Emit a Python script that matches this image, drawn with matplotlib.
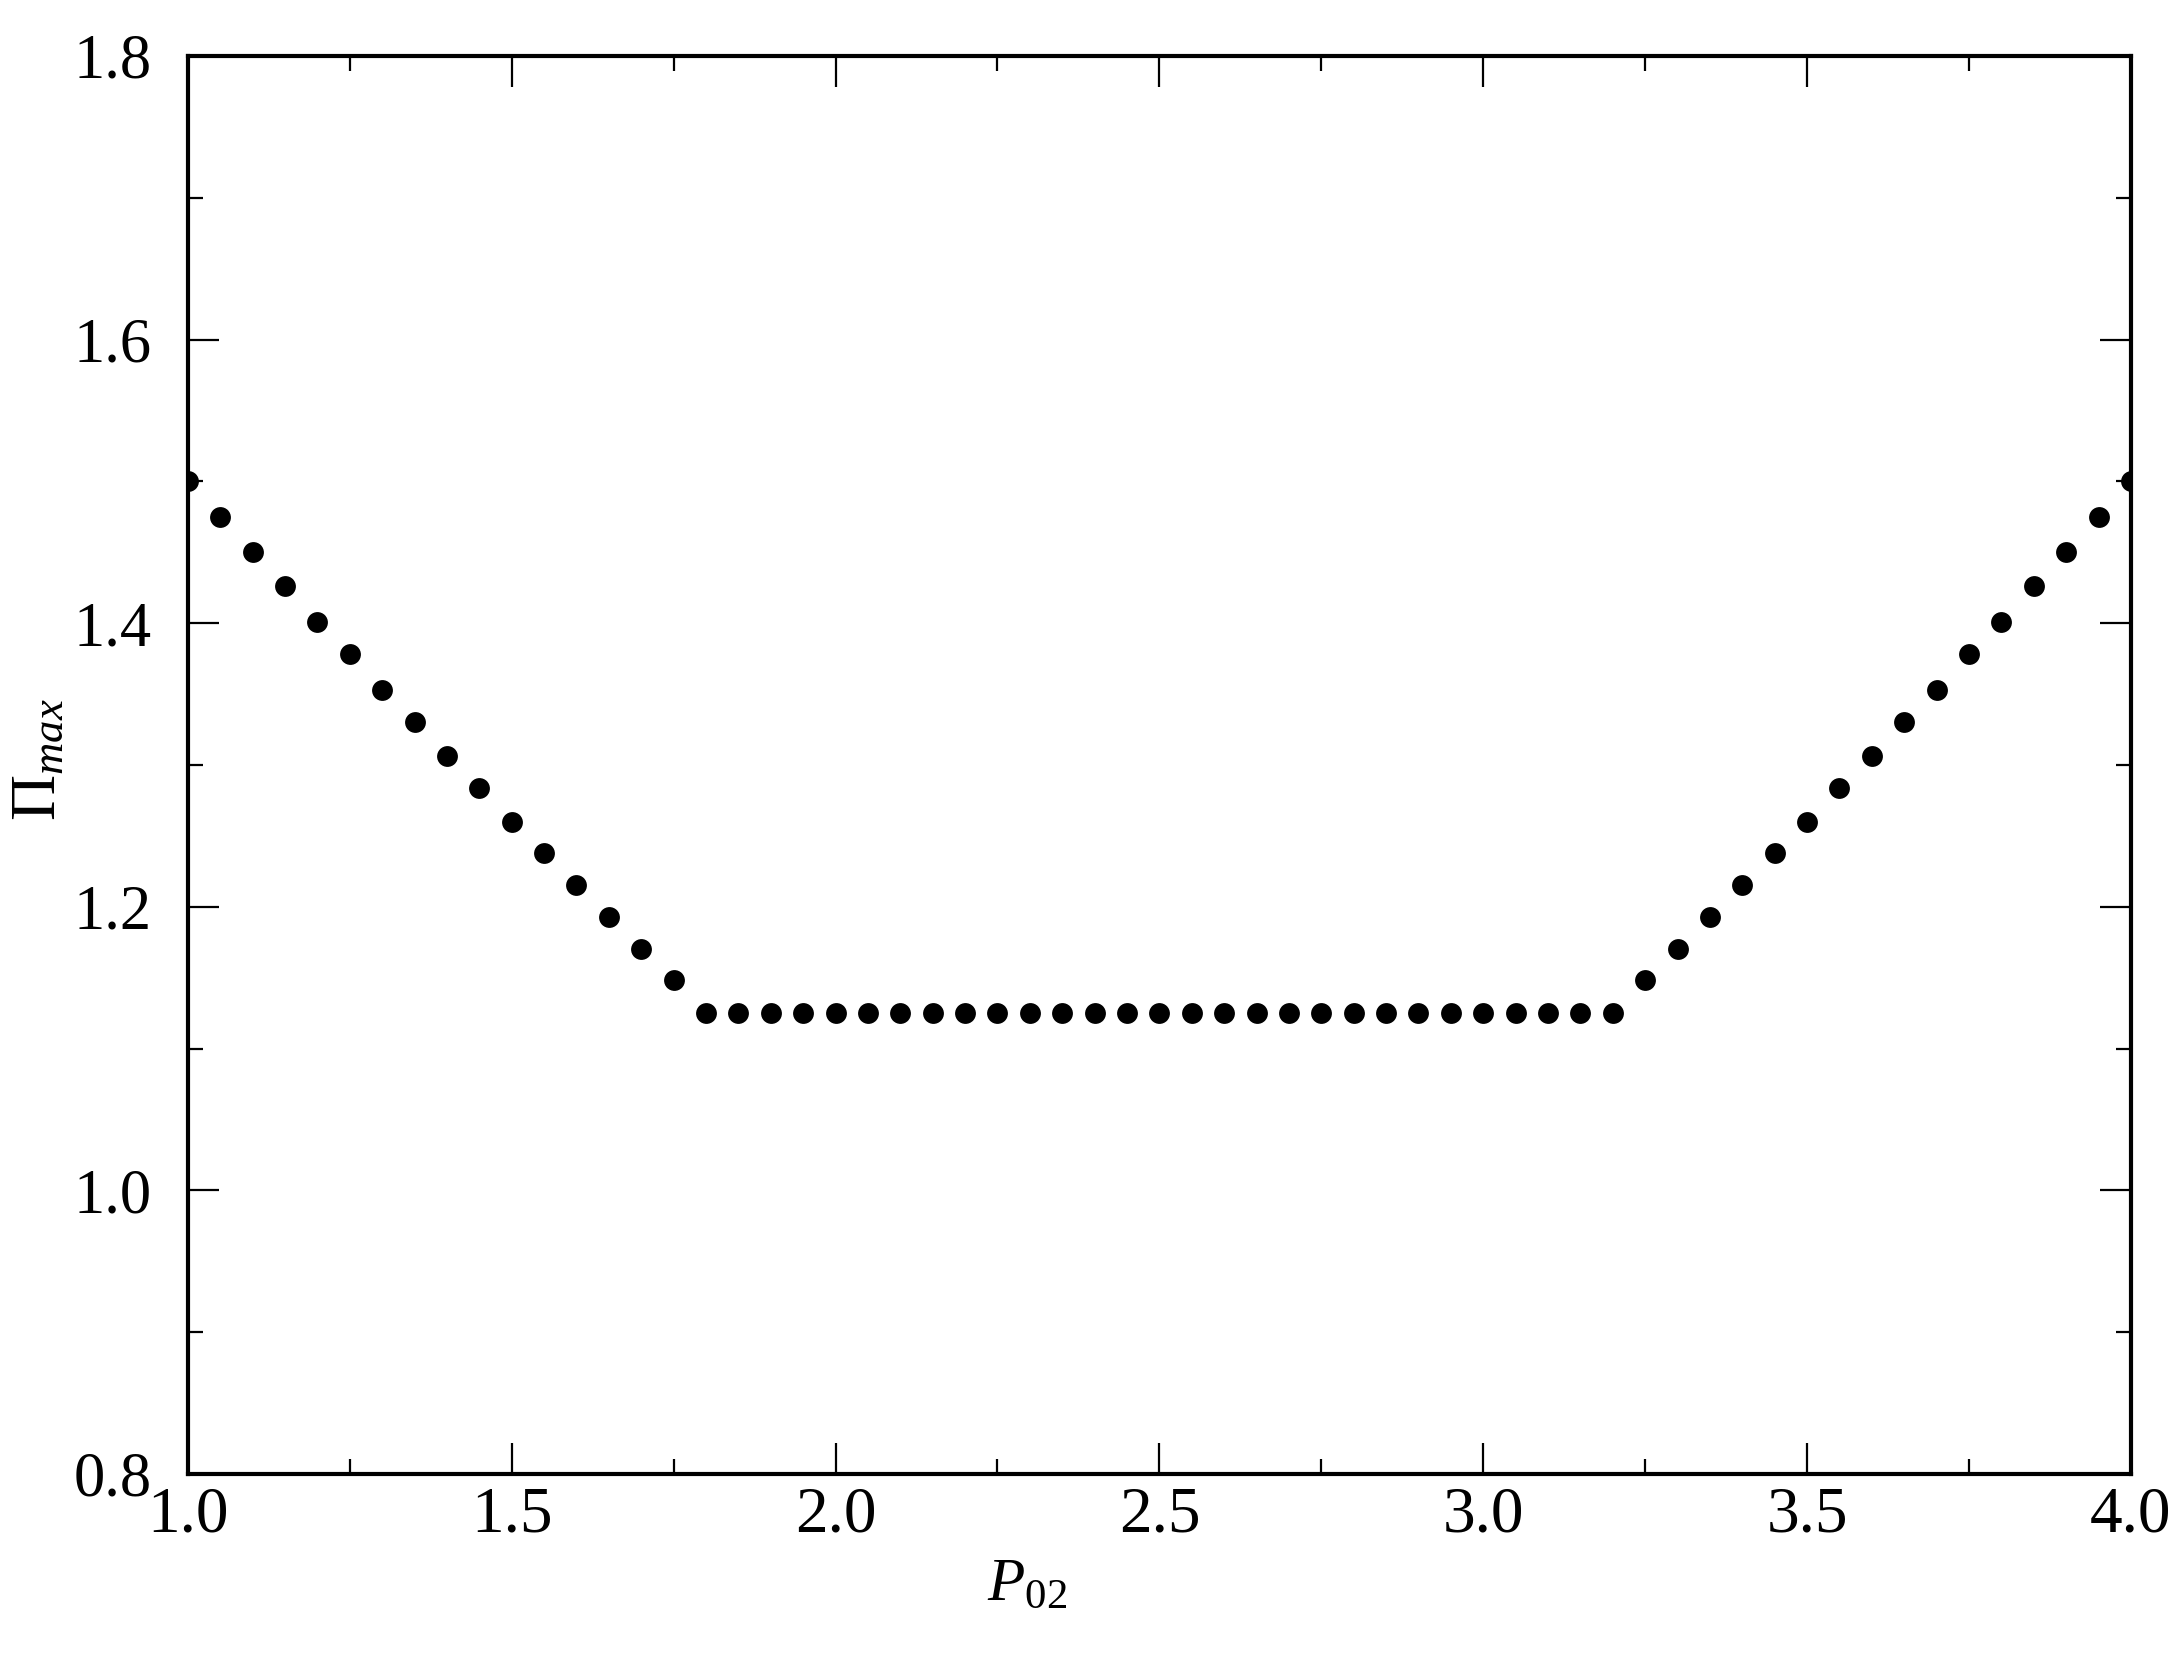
import matplotlib
matplotlib.use("Agg")
import matplotlib.pyplot as plt
from matplotlib.ticker import MultipleLocator, FormatStrFormatter

plt.rcParams['font.family'] = ['Liberation Serif', 'DejaVu Serif']
plt.rcParams['mathtext.fontset'] = 'custom'
plt.rcParams['mathtext.rm'] = 'Liberation Serif'
plt.rcParams['mathtext.it'] = 'Liberation Serif:italic'

# Data
p02 = [1.00, 1.05, 1.10, 1.15, 1.20, 1.25, 1.30, 1.35, 1.40, 1.45,
       1.50, 1.55, 1.60, 1.65, 1.70, 1.75, 1.80, 1.85, 1.90, 1.95,
       2.00, 2.05, 2.10, 2.15, 2.20, 2.25, 2.30, 2.35, 2.40, 2.45,
       2.50, 2.55, 2.60, 2.65, 2.70, 2.75, 2.80, 2.85, 2.90, 2.95,
       3.00, 3.05, 3.10, 3.15, 3.20, 3.25, 3.30, 3.35, 3.40, 3.45,
       3.50, 3.55, 3.60, 3.65, 3.70, 3.75, 3.80, 3.85, 3.90, 3.95,
       4.00]
pi_max = [1.500, 1.475, 1.450, 1.426, 1.401, 1.378, 1.353, 1.330, 1.306, 1.284,
          1.260, 1.238, 1.215, 1.193, 1.170, 1.148, 1.125, 1.125, 1.125, 1.125,
          1.125, 1.125, 1.125, 1.125, 1.125, 1.125, 1.125, 1.125, 1.125, 1.125,
          1.125, 1.125, 1.125, 1.125, 1.125, 1.125, 1.125, 1.125, 1.125, 1.125,
          1.125, 1.125, 1.125, 1.125, 1.125, 1.148, 1.170, 1.193, 1.215, 1.238,
          1.260, 1.284, 1.306, 1.330, 1.353, 1.378, 1.401, 1.426, 1.450, 1.475,
          1.500]

x_ticks = [1.0, 1.5, 2.0, 2.5, 3.0, 3.5, 4.0]
y_ticks = [0.8, 1.0, 1.2, 1.4, 1.6, 1.8]

fig = plt.figure(figsize=(21.84, 16.55), dpi=100)
ax = fig.add_axes([0.086, 0.1094, 0.8897, 0.8568])

ax.plot(p02, pi_max, linestyle='none', marker='o', markersize=15,
        color='black', markeredgewidth=0)

ax.set_xlim(1.0, 4.0)
ax.set_ylim(0.8, 1.8)
ax.set_xticks(x_ticks)
ax.set_yticks(y_ticks)
ax.xaxis.set_minor_locator(MultipleLocator(0.25))
ax.yaxis.set_minor_locator(MultipleLocator(0.1))
ax.xaxis.set_major_formatter(FormatStrFormatter('%.1f'))
ax.yaxis.set_major_formatter(FormatStrFormatter('%.1f'))

for s in ax.spines.values():
    s.set_linewidth(3.0)

ax.tick_params(which='both', direction='in', top=True, right=True,
               width=1.6, labelsize=45)
ax.tick_params(which='major', length=22)
ax.tick_params(which='minor', length=10.5)
ax.tick_params(axis='x', which='major', pad=9, labelsize=47)
ax.tick_params(axis='y', which='major', pad=26)

ax.set_xlabel(r'$P_{\mathrm{02}}$', fontsize=44)
ax.xaxis.set_label_coords(0.432, -0.078)
ax.xaxis.label.set_va('center')
ax.set_ylabel(r'$\mathrm{\Pi}_{max}$', fontsize=46)
ax.yaxis.set_label_coords(-0.076, 0.504)
ax.yaxis.label.set_va('center')

fig.savefig('out.png', dpi=100)
